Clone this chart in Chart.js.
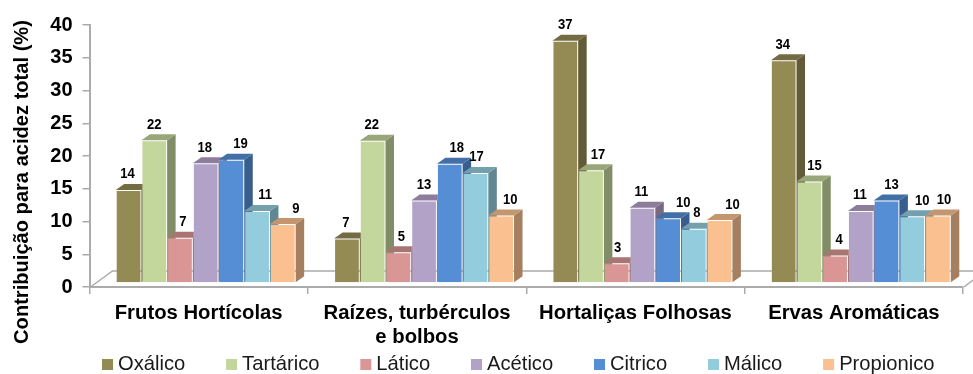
<!DOCTYPE html>
<html>
<head>
<meta charset="utf-8">
<script src="https://cdn.jsdelivr.net/npm/chart.js@4"></script>
<style>
  html, body { margin: 0; padding: 0; background: #fff; }
  canvas { display: block; }
</style>
</head>
<body>
<canvas id="myChart" width="973" height="374"></canvas>
<script>
const categories = ['Frutos Hortícolas', ['Raízes, turbérculos', 'e bolbos'], 'Hortaliças Folhosas', 'Ervas Aromáticas'];

const oxalico = [14.2, 6.8, 37, 34];
const tartarico = [21.8, 21.7, 17.2, 15.49];
const latico = [6.9, 4.7, 3, 4.2];
const acetico = [18.3, 12.6, 11.49, 11];
const citrico = [18.8, 18.2, 9.9, 12.6];
const malico = [11, 16.8, 8.3, 10.2];
const propionico = [9, 10.3, 9.6, 10.3];

const yTicks = [0, 5, 10, 15, 20, 25, 30, 35, 40];
const yTitle = 'Contribuição para acidez total (%)';

// hand placed labels in the original, sideways nudge per series
const labelNudge = [
  [-1, -1, 0, -1],
  [0, -1, 7, 5],
  [3, 3, 1, 4],
  [-1, 0, -1, -1],
  [9, 7, 15, 5],
  [8, 1, 3, 10],
  [13, 9, 13, 6]
];

const fontName = '"Liberation Sans", Arial, sans-serif';
const axisGrey = '#ABABAB';

function shade(hex, k) {
  const n = parseInt(hex.slice(1), 16);
  const r = Math.round((n >> 16 & 255) * k);
  const g = Math.round((n >> 8 & 255) * k);
  const b = Math.round((n & 255) * k);
  return `rgb(${r},${g},${b})`;
}

function makeSet(label, data, color) {
  return { label: label, data: data, backgroundColor: color, borderColor: 'rgba(255,255,255,0.15)', borderWidth: 1 };
}

// the bars stand a little behind the axis plane
const planeX = 7;
const planeY = -4;
const depthX = 8.5;
const depthY = -6;

function drawFaces(ctx, el, color) {
  const left = el.x - el.width / 2;
  const right = el.x + el.width / 2;
  ctx.fillStyle = shade(color, 0.66);
  ctx.beginPath();
  ctx.moveTo(right, el.y);
  ctx.lineTo(right + depthX, el.y + depthY);
  ctx.lineTo(right + depthX, el.base + depthY);
  ctx.lineTo(right, el.base);
  ctx.closePath();
  ctx.fill();
  ctx.fillStyle = shade(color, 0.78);
  ctx.beginPath();
  ctx.moveTo(left, el.y);
  ctx.lineTo(left + depthX, el.y + depthY);
  ctx.lineTo(right + depthX, el.y + depthY);
  ctx.lineTo(right, el.y);
  ctx.closePath();
  ctx.fill();
}

const bars3d = {
  id: 'bars3d',
  beforeDatasetsDraw(chart) {
    const ctx = chart.ctx;
    const a = chart.chartArea;
    // floor
    ctx.save();
    ctx.strokeStyle = axisGrey;
    ctx.lineWidth = 1.5;
    ctx.beginPath();
    ctx.moveTo(a.left + 1, a.bottom);
    ctx.lineTo(a.left + 23, a.bottom - 16);
    ctx.lineTo(973, a.bottom - 16);
    ctx.moveTo(a.right + 1, a.bottom);
    ctx.lineTo(973, a.bottom - 7);
    ctx.stroke();
    ctx.restore();
  },
  // chart.js paints the last dataset first, here the left bar has to go first
  beforeDatasetDraw() {
    return false;
  },
  afterDatasetsDraw(chart) {
    const ctx = chart.ctx;
    ctx.save();
    ctx.translate(planeX, planeY);
    chart.data.datasets.forEach((ds, i) => {
      const meta = chart.getDatasetMeta(i);
      meta.data.forEach(el => drawFaces(ctx, el, ds.backgroundColor));
      meta.controller.draw();
    });
    ctx.restore();

    ctx.save();
    ctx.fillStyle = '#000';
    ctx.font = 'bold 14.5px ' + fontName;
    ctx.textAlign = 'center';
    ctx.textBaseline = 'middle';
    chart.data.datasets.forEach((ds, i) => {
      chart.getDatasetMeta(i).data.forEach((el, j) => {
        ctx.save();
        ctx.translate(el.x + planeX + labelNudge[i][j], el.y + planeY - 15.5);
        ctx.scale(0.9, 1);
        ctx.fillText(Math.round(ds.data[j]), 0, 0);
        ctx.restore();
      });
    });
    ctx.restore();
  }
};

const sideText = {
  id: 'sideText',
  afterDraw(chart) {
    const ctx = chart.ctx;
    // y title sits lower than the middle of the axis
    ctx.save();
    ctx.translate(22, 182);
    ctx.rotate(-Math.PI / 2);
    ctx.font = 'bold 20.1px ' + fontName;
    ctx.fillStyle = '#000';
    ctx.textAlign = 'center';
    ctx.textBaseline = 'middle';
    ctx.fillText(yTitle, 0, 0);
    ctx.restore();

    // legend row, closer swatch to text than the built in legend allows
    ctx.save();
    ctx.font = '20.2px ' + fontName;
    ctx.textBaseline = 'alphabetic';
    let x = 102;
    chart.data.datasets.forEach(ds => {
      ctx.fillStyle = ds.backgroundColor;
      ctx.fillRect(x, 359, 11, 11);
      ctx.fillStyle = '#1a1a1a';
      ctx.fillText(ds.label, x + 16, 370);
      x += 16 + ctx.measureText(ds.label).width + 40.8;
    });
    ctx.restore();
  }
};

new Chart(document.getElementById('myChart').getContext('2d'), {
  type: 'bar',
  data: {
    labels: categories,
    datasets: [
      makeSet('Oxálico', oxalico, '#948A54'),
      makeSet('Tartárico', tartarico, '#C3D69B'),
      makeSet('Lático', latico, '#D99694'),
      makeSet('Acético', acetico, '#B3A2C7'),
      makeSet('Citrico', citrico, '#558ED5'),
      makeSet('Málico', malico, '#93CDDD'),
      makeSet('Propionico', propionico, '#FAC090')
    ]
  },
  options: {
    responsive: false,
    animation: false,
    layout: { padding: { top: 25, right: 10, left: 0, bottom: 0 } },
    datasets: { bar: { categoryPercentage: 0.824, barPercentage: 1 } },
    scales: {
      x: {
        grid: { drawOnChartArea: false, color: axisGrey, tickLength: 7, lineWidth: 1.5 },
        border: { color: axisGrey, width: 2 },
        ticks: {
          color: '#000',
          font: { family: fontName, size: 20.3, weight: 'bold' },
          padding: 7,
          maxRotation: 0,
          autoSkip: false
        },
        afterFit(scale) { scale.height = 87; }
      },
      y: {
        min: 0,
        max: 40,
        grid: { drawOnChartArea: false, color: axisGrey, tickLength: 7, lineWidth: 1.5 },
        border: { color: axisGrey, width: 2 },
        afterBuildTicks(scale) { scale.ticks = yTicks.map(v => ({ value: v })); },
        ticks: {
          color: '#000',
          font: { family: fontName, size: 20, weight: 'bold' },
          padding: 10
        },
        afterFit(scale) { scale.width = 89.5; }
      }
    },
    plugins: {
      legend: { display: false },
      title: { display: false },
      tooltip: { enabled: false }
    }
  },
  plugins: [bars3d, sideText]
});
</script>
</body>
</html>
